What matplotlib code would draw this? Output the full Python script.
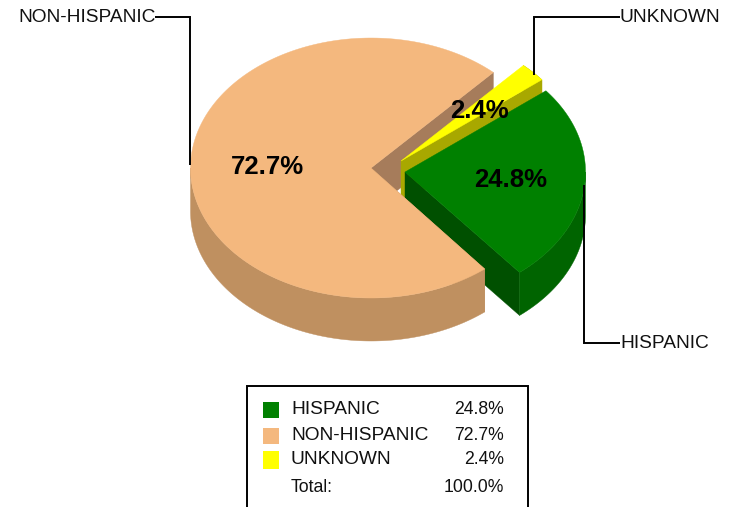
import numpy as np
import matplotlib
matplotlib.use("Agg")
import matplotlib.pyplot as plt
from matplotlib.patches import Polygon, Rectangle

plt.rcParams["font.family"] = ["Liberation Sans", "DejaVu Sans"]

categories = ["HISPANIC", "NON-HISPANIC", "UNKNOWN"]
values = [24.8, 72.7, 2.4]
total_label = "100.0%"

top_colors = ["#008000", "#F4B87E", "#FFFF00"]
rim_colors = ["#006400", "#BF9060", "#A8A800"]
cut_colors = ["#005000", "#A67C5B", "#A8A800"]

# slice centres in pixels (slices are pulled apart a bit)
centers = [(405, 172), (371, 168), (401, 161)]
RX, RY, DEPTH = 180.5, 130, 43
START = -50.6

fig = plt.figure(figsize=(7.29, 5.07), dpi=100)
ax = fig.add_axes([0, 0, 1, 1])
ax.set_xlim(0, 729)
ax.set_ylim(507, 0)
ax.axis("off")


def arc(c, a1, a2):
    t = np.radians(np.linspace(a1, a2, 200))
    return np.column_stack([c[0] + RX * np.cos(t), c[1] - RY * np.sin(t)])


def down(pts):
    return pts + np.array([0, DEPTH])


def add(pts, color, z):
    ax.add_patch(Polygon(pts, closed=True, fc=color, ec=color, lw=0.3, zorder=z))


def radial_wall(c, a, color, z):
    edge = arc(c, a, a)[:1]
    top = np.vstack([[c], edge])
    add(np.vstack([top, down(top)[::-1]]), color, z)


def rim(c, a1, a2, color, z):
    a = arc(c, a1, a2)
    add(np.vstack([a, down(a)[::-1]]), color, z)


# angles from the values
sweep = np.array(values) / 100 * 360
ga1, ga2 = START, START + sweep[0]
ya1, ya2 = ga2, ga2 + sweep[2]
pa1, pa2 = ya2, ya2 + sweep[1]

# back to front, same overlap as the original
radial_wall(centers[1], pa1, cut_colors[1], 1)
radial_wall(centers[2], ya1, cut_colors[2], 2)
rim(centers[2], ya1, ya2, rim_colors[2], 2)
radial_wall(centers[0], ga1, cut_colors[0], 3)
rim(centers[0], ga1, 0, rim_colors[0], 3)
rim(centers[1], 180, pa2, rim_colors[1], 4)
radial_wall(centers[1], pa2, rim_colors[1], 4)
add(np.vstack([[centers[1]], arc(centers[1], pa1, pa2)]), top_colors[1], 5)
add(np.vstack([[centers[2]], arc(centers[2], ya1, ya2)]), top_colors[2], 6)
add(np.vstack([[centers[0]], arc(centers[0], ga1, ga2)]), top_colors[0], 6)

# value labels on the slices
big = dict(fontsize=18.5, fontweight="bold", ha="center", va="center", color="black", zorder=10)
ax.text(510.5, 180, f"{values[0]}%", **big)
ax.text(267.5, 167, f"{values[1]}%", **big)
ax.text(479, 111, f"{values[2]}%", **big)

# leader lines
lead = dict(color="black", lw=1.4, zorder=9, solid_capstyle="butt", solid_joinstyle="miter")
ax.plot([155, 190.5, 190.5], [17, 17, 165], **lead)
ax.plot([620, 534, 534], [17, 17, 75], **lead)
ax.plot([620, 584, 584], [343, 343, 185], **lead)

small = dict(fontsize=13.8, va="center", color="#111111")
ax.text(18, 17, categories[1], ha="left", **small)
ax.text(620, 17, categories[2], ha="left", **small)
ax.text(620, 343, categories[0], ha="left", **small)

# legend box runs off the bottom of the picture
ax.add_patch(Rectangle((247.5, 385.5), 280.5, 140, fc="white", ec="black", lw=1.4))
rows = [409, 435, 460]
swatch_top = [402, 428, 451]
swatch_h = [16, 16, 18]
for j, i in enumerate([0, 1, 2]):
    ax.add_patch(Rectangle((263, swatch_top[j]), 16, swatch_h[j], fc=top_colors[i], ec="none"))
    ax.text(291, rows[j], categories[i], ha="left", **small)
    ax.text(504, rows[j], f"{values[i]}%", ha="right", va="center", fontsize=12.7, color="#111111")
ax.text(291, 488, "Total:", ha="left", va="center", fontsize=12.7, color="#111111")
ax.text(504, 488, total_label, ha="right", va="center", fontsize=12.7, color="#111111")

fig.savefig("out.png", dpi=100)
